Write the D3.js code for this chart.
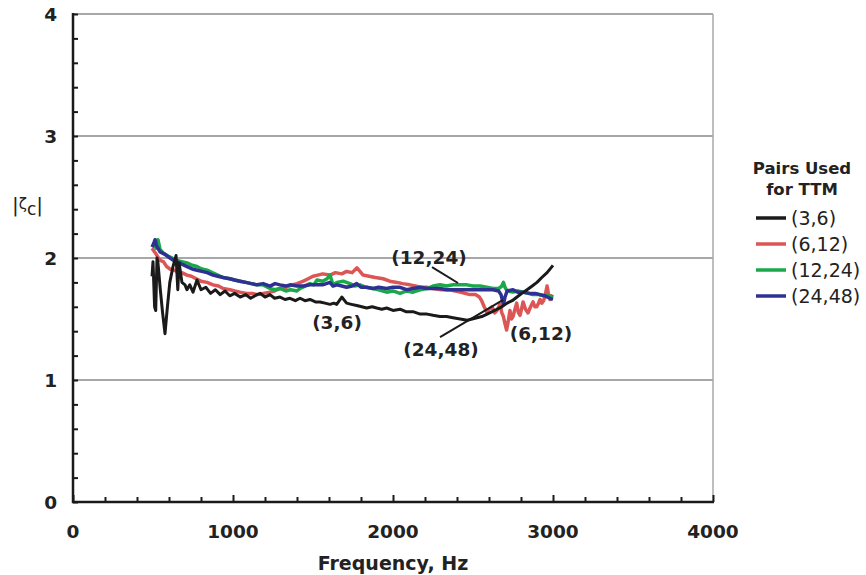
<!DOCTYPE html>
<html><head><meta charset="utf-8">
<script src="https://cdn.jsdelivr.net/npm/d3@7"></script>
<style>
body{margin:0;background:#fff;}
svg{display:block;font-family:"DejaVu Sans",Verdana,sans-serif;}
</style></head>
<body><svg id="c" width="866" height="575"></svg>
<script>
// ---- data ----
const seriesNames = ["(3,6)", "(6,12)", "(12,24)", "(24,48)"];
const seriesColors = ["#1a1a1a", "#dc5656", "#1aa84a", "#2e3192"];

const freq36 = [494,500,510,517,525,531,545,560,575,590,605,625,644,655,663,681,700,712,730,750,775,800,830,860,890,920,950,980,1010,1045,1080,1110,1150,1170,1200,1231,1260,1294,1325,1356,1390,1419,1450,1481,1515,1544,1575,1606,1630,1648,1680,1710,1740,1773,1805,1835,1870,1898,1930,1960,2000,2044,2080,2125,2170,2213,2250,2294,2335,2375,2420,2463,2495,2525,2555,2588,2620,2650,2680,2713,2745,2775,2805,2838,2870,2900,2930,2963,3000];
const zeta36 = [1.85,1.97,1.60,1.57,2.00,1.96,1.75,1.55,1.38,1.60,1.80,1.93,2.02,1.74,1.96,1.80,1.78,1.74,1.78,1.72,1.82,1.74,1.76,1.71,1.74,1.70,1.73,1.69,1.71,1.68,1.70,1.67,1.70,1.71,1.68,1.70,1.67,1.68,1.66,1.67,1.65,1.67,1.65,1.66,1.64,1.64,1.63,1.62,1.63,1.62,1.68,1.63,1.62,1.61,1.60,1.59,1.60,1.59,1.58,1.59,1.57,1.58,1.56,1.56,1.54,1.54,1.53,1.52,1.52,1.51,1.50,1.49,1.50,1.51,1.52,1.54,1.56,1.58,1.60,1.63,1.65,1.68,1.71,1.74,1.77,1.80,1.84,1.88,1.94];

const freq612 = [494,510,525,544,565,585,606,630,650,680,712,740,770,800,838,875,910,938,981,1010,1044,1085,1120,1150,1190,1231,1260,1294,1330,1370,1400,1440,1470,1500,1530,1560,1606,1640,1680,1710,1745,1775,1800,1813,1850,1890,1938,1980,2025,2060,2106,2140,2169,2210,2250,2300,2356,2390,2419,2450,2481,2515,2540,2554,2570,2585,2600,2619,2635,2650,2669,2680,2690,2700,2710,2720,2731,2740,2750,2762,2773,2784,2794,2803,2813,2828,2844,2860,2875,2887,2898,2910,2919,2930,2941,2952,2963,2972,2981,2990,3000];
const zeta612 = [2.08,2.05,2.02,1.98,1.97,1.93,1.91,1.90,1.89,1.88,1.86,1.85,1.83,1.81,1.80,1.78,1.77,1.75,1.74,1.73,1.72,1.71,1.71,1.70,1.71,1.72,1.73,1.75,1.76,1.78,1.79,1.81,1.83,1.85,1.86,1.87,1.86,1.88,1.87,1.89,1.88,1.92,1.88,1.86,1.85,1.84,1.83,1.81,1.80,1.79,1.78,1.77,1.76,1.76,1.75,1.74,1.74,1.73,1.72,1.71,1.70,1.70,1.68,1.65,1.60,1.56,1.58,1.60,1.55,1.57,1.62,1.55,1.52,1.46,1.41,1.48,1.57,1.50,1.52,1.58,1.63,1.55,1.53,1.58,1.64,1.58,1.55,1.60,1.64,1.60,1.60,1.63,1.66,1.63,1.65,1.70,1.77,1.70,1.66,1.69,1.68];

const freq1224 = [494,510,520,531,544,565,588,620,650,680,713,745,775,805,838,870,905,938,980,1010,1044,1080,1115,1150,1188,1231,1260,1294,1330,1360,1400,1419,1450,1481,1505,1525,1560,1588,1606,1625,1650,1688,1731,1760,1794,1830,1875,1910,1960,2000,2044,2085,2125,2170,2213,2250,2294,2335,2375,2420,2463,2500,2544,2585,2625,2660,2680,2690,2700,2713,2750,2780,2813,2845,2875,2910,2940,2970,3000];
const zeta1224 = [2.09,2.11,2.08,2.15,2.07,2.04,2.02,2.00,1.98,1.97,1.96,1.94,1.93,1.91,1.90,1.88,1.86,1.84,1.83,1.82,1.81,1.80,1.79,1.78,1.78,1.75,1.74,1.75,1.73,1.74,1.73,1.75,1.77,1.79,1.78,1.82,1.81,1.83,1.86,1.78,1.80,1.81,1.79,1.77,1.78,1.76,1.75,1.74,1.72,1.73,1.71,1.73,1.72,1.74,1.75,1.77,1.78,1.77,1.78,1.78,1.78,1.77,1.77,1.76,1.75,1.75,1.77,1.80,1.76,1.73,1.72,1.73,1.72,1.71,1.70,1.70,1.69,1.69,1.68];

const freq2448 = [494,505,513,522,531,544,575,606,630,650,680,713,745,775,805,838,875,905,938,980,1010,1044,1080,1115,1150,1188,1231,1263,1294,1330,1356,1400,1440,1481,1525,1560,1606,1625,1650,1680,1710,1745,1773,1800,1835,1875,1910,1960,2000,2044,2085,2125,2170,2213,2250,2294,2335,2375,2420,2463,2500,2544,2585,2625,2660,2675,2690,2700,2713,2750,2780,2813,2856,2890,2919,2950,2981,3000];
const zeta2448 = [2.09,2.12,2.15,2.10,2.08,2.05,2.03,2.00,1.98,1.97,1.95,1.93,1.91,1.90,1.89,1.88,1.86,1.85,1.84,1.83,1.82,1.81,1.80,1.79,1.78,1.79,1.77,1.79,1.78,1.77,1.78,1.77,1.77,1.78,1.78,1.78,1.80,1.77,1.78,1.77,1.76,1.77,1.79,1.76,1.76,1.75,1.76,1.75,1.76,1.76,1.74,1.75,1.76,1.75,1.75,1.75,1.74,1.74,1.74,1.74,1.74,1.74,1.74,1.74,1.73,1.70,1.62,1.68,1.73,1.74,1.72,1.72,1.71,1.71,1.70,1.69,1.67,1.66];

const xTicks = [0, 1000, 2000, 3000, 4000];
const yTicks = [0, 1, 2, 3, 4];

// annotation labels (data coordinates)
const annLabels = ["(3,6)", "(12,24)", "(24,48)", "(6,12)"];
const annFreq = [1650, 2225, 2300, 2925];
const annZeta = [1.475, 2.008, 1.254, 1.385];
// leader lines: [f, zeta] endpoints
const leaderFrom = [[2244, 1.926], [2294, 1.352]];
const leaderTo = [[2406, 1.795], [2688, 1.656]];

// ---- chart ----
const svg = d3.select("#c");
const x = d3.scaleLinear().domain([0, 4000]).range([73, 713]);
const y = d3.scaleLinear().domain([0, 4]).range([502, 14]);

// gridlines
svg.append("g").selectAll("line").data(yTicks.filter(d => d > 0)).join("line")
  .attr("x1", x(0)).attr("x2", x(4000)).attr("y1", d => y(d)).attr("y2", d => y(d))
  .attr("stroke", "#8a8a8a").attr("stroke-width", 1.5);
// right border
svg.append("line").attr("x1", x(4000)).attr("x2", x(4000)).attr("y1", y(0)).attr("y2", y(4))
  .attr("stroke", "#a8a8a8").attr("stroke-width", 1.5);

// axes with inward ticks
const yAxisMinor = d3.axisRight(y).tickValues(d3.range(0, 4.01, 0.2)).tickSize(5).tickFormat("");
const gy = svg.append("g").attr("transform", `translate(${x(0)},0)`).call(yAxisMinor);
gy.selectAll(".tick line").attr("stroke", "#1a1a1a").attr("stroke-width", 2);
gy.select(".domain").remove();

const xAxisMinor = d3.axisTop(x).tickValues(d3.range(0, 4001, 200)).tickSize(5).tickFormat("");
const gx = svg.append("g").attr("transform", `translate(0,${y(0)})`).call(xAxisMinor);
gx.selectAll(".tick line").attr("stroke", "#1a1a1a").attr("stroke-width", 2)
  .attr("y2", d => (d % 1000 === 0 ? -7 : -5));
gx.select(".domain").remove();

svg.append("line").attr("x1", x(0)).attr("x2", x(0)).attr("y1", y(0) + 1).attr("y2", y(4) - 1)
  .attr("stroke", "#1a1a1a").attr("stroke-width", 2.5);
svg.append("line").attr("x1", x(0) - 1).attr("x2", x(4000) + 1).attr("y1", y(0)).attr("y2", y(0))
  .attr("stroke", "#1a1a1a").attr("stroke-width", 2.5);

// tick labels
svg.append("g").selectAll("text").data(yTicks).join("text")
  .attr("x", 57).attr("y", d => y(d)).attr("dy", "0.36em").attr("text-anchor", "end")
  .attr("font-size", 18.5).attr("font-weight", "bold").attr("fill", "#222").text(d => d);
svg.append("g").selectAll("text").data(xTicks).join("text")
  .attr("x", d => x(d)).attr("y", 531).attr("dy", "0.36em").attr("text-anchor", "middle")
  .attr("font-size", 18.5).attr("font-weight", "bold").attr("fill", "#222").text(d => d);

// axis titles
svg.append("text").attr("x", 393).attr("y", 563).attr("dy", "0.36em").attr("text-anchor", "middle")
  .attr("font-size", 19).attr("font-weight", "bold").attr("fill", "#222").text("Frequency, Hz");
const yl = svg.append("text").attr("x", 12).attr("y", 212).attr("font-size", 20).attr("fill", "#222");
yl.append("tspan").text("|");
yl.append("tspan").attr("font-size", 15).attr("dy", -3).text("ζ");
yl.append("tspan").attr("font-size", 17).attr("dy", 6).text("c");
yl.append("tspan").attr("dy", -3).text("|");

// series
const series = [
  {f: freq36, z: zeta36},
  {f: freq612, z: zeta612},
  {f: freq1224, z: zeta1224},
  {f: freq2448, z: zeta2448}
];
const line = d3.line().x(d => x(d[0])).y(d => y(d[1]));
const order = [1, 2, 3, 0];
order.forEach(i => {
  const pts = series[i].f.map((f, k) => [f, series[i].z[k]]);
  svg.append("path").datum(pts).attr("d", line).attr("fill", "none")
    .attr("stroke", seriesColors[i]).attr("stroke-width", i === 0 ? 3 : 3.5)
    .attr("stroke-linejoin", "round");
});

// leader lines
leaderFrom.forEach((p, i) => {
  svg.append("line").attr("x1", x(p[0])).attr("y1", y(p[1]))
    .attr("x2", x(leaderTo[i][0])).attr("y2", y(leaderTo[i][1]))
    .attr("stroke", "#1a1a1a").attr("stroke-width", 2);
});
// annotation labels
svg.append("g").selectAll("text").data(annLabels).join("text")
  .attr("x", (d, i) => x(annFreq[i])).attr("y", (d, i) => y(annZeta[i])).attr("dy", "0.36em")
  .attr("text-anchor", "middle").attr("font-size", 18.5).attr("font-weight", "bold").attr("fill", "#222")
  .text(d => d);

// legend
const lg = svg.append("g");
lg.append("text").attr("x", 802).attr("y", 168).attr("dy", "0.36em").attr("text-anchor", "middle")
  .attr("font-size", 16.5).attr("font-weight", "bold").attr("fill", "#222").text("Pairs Used");
lg.append("text").attr("x", 802).attr("y", 189).attr("dy", "0.36em").attr("text-anchor", "middle")
  .attr("font-size", 16.5).attr("font-weight", "bold").attr("fill", "#222").text("for TTM");
seriesNames.forEach((n, i) => {
  const yy = 218 + i * 26;
  lg.append("line").attr("x1", 756).attr("x2", 786).attr("y1", yy).attr("y2", yy)
    .attr("stroke", seriesColors[i]).attr("stroke-width", 3.5);
  lg.append("text").attr("x", 791).attr("y", yy).attr("dy", "0.36em")
    .attr("font-size", 19).attr("fill", "#222").text(n);
});
</script></body></html>
